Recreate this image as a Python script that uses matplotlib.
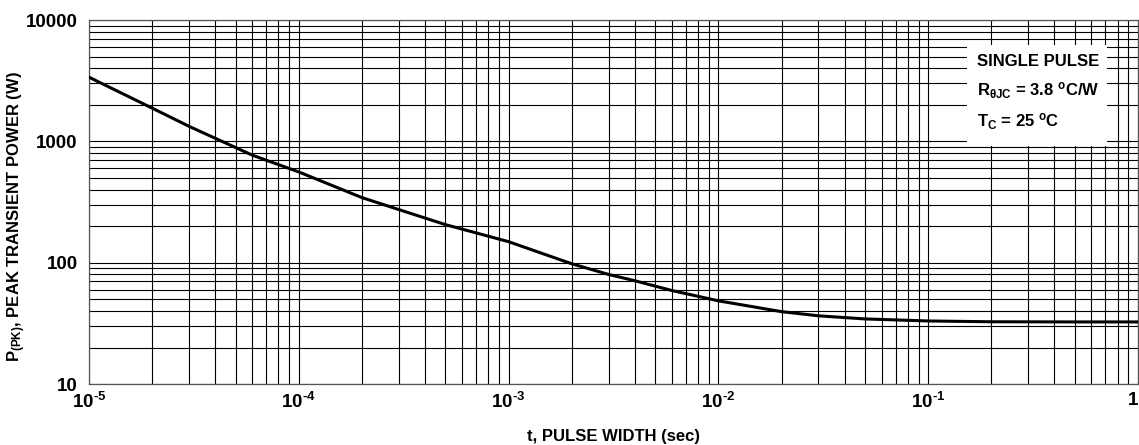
# Peak transient power vs pulse width (single pulse), log-log datasheet style chart

import matplotlib.pyplot as plt
from matplotlib.patches import Rectangle
from matplotlib.ticker import FixedLocator, FixedFormatter, LogLocator, NullFormatter

plt.rcParams['font.family'] = 'Liberation Sans'
plt.rcParams['font.weight'] = 'bold'
plt.rcParams['mathtext.fontset'] = 'custom'
plt.rcParams['mathtext.rm'] = 'Liberation Sans:bold'
plt.rcParams['mathtext.it'] = 'Liberation Sans:bold'
plt.rcParams['mathtext.bf'] = 'Liberation Sans:bold'
plt.rcParams['mathtext.default'] = 'regular'

# curve
pulse_width = [1e-5, 2e-5, 3e-5, 4e-5, 6e-5, 1e-4, 2e-4, 3e-4, 5e-4, 1e-3,
               2e-3, 3e-3, 4e-3, 6e-3, 1e-2, 2e-2, 3e-2, 5e-2, 1e-1, 2e-1,
               5e-1, 1.0]
peak_power = [3380, 1880, 1330, 1060, 770, 560, 344, 274, 206, 149,
              98, 80, 71, 59, 48.5, 39.5, 36.5, 34.4, 33.1, 32.6,
              32.5, 32.5]

x_ticks = [1e-5, 1e-4, 1e-3, 1e-2, 1e-1, 1]
x_tick_labels = [r'10$^{\text{-5}}$', r'10$^{\text{-4}}$', r'10$^{\text{-3}}$',
                 r'10$^{\text{-2}}$', r'10$^{\text{-1}}$', '1']
y_ticks = [10, 100, 1000, 10000]
y_tick_labels = ['10', '100', '1000', '10000']

legend_lines = ['SINGLE PULSE',
                r'R$_{\theta JC}$ = 3.8 $^{o}$C/W',
                r'T$_{C}$ = 25 $^{o}$C']

fig = plt.figure(figsize=(11.39, 4.45), dpi=100)
ax = fig.add_axes([0.0781, 0.137, 0.921, 0.818])

ax.plot(pulse_width, peak_power, color='black', linewidth=2.2, zorder=5)

ax.set_xscale('log')
ax.set_yscale('log')
ax.set_xlim(1e-5, 1)
ax.set_ylim(10, 10000)

ax.xaxis.set_major_locator(FixedLocator(x_ticks))
ax.xaxis.set_major_formatter(FixedFormatter(x_tick_labels))
ax.yaxis.set_major_locator(FixedLocator(y_ticks))
ax.yaxis.set_major_formatter(FixedFormatter(y_tick_labels))
ax.xaxis.set_minor_locator(LogLocator(base=10, subs=range(2, 10), numticks=20))
ax.yaxis.set_minor_locator(LogLocator(base=10, subs=range(2, 10), numticks=20))
ax.xaxis.set_minor_formatter(NullFormatter())
ax.yaxis.set_minor_formatter(NullFormatter())

ax.grid(True, which='both', color='black', linewidth=0.8)
ax.tick_params(which='both', length=0, labelsize=13.5)
ax.tick_params(axis='x', pad=6)
ax.tick_params(axis='y', pad=8)
for lab in ax.get_xticklabels() + ax.get_yticklabels():
    lab.set_fontweight('bold')
ax.get_xticklabels()[-1].set_horizontalalignment('right')
for sp in ax.spines.values():
    sp.set_linewidth(0.9)
    sp.set_color('#555555')

ax.set_xlabel('t, PULSE WIDTH (sec)', fontsize=12, fontweight='bold', labelpad=12)
ax.set_ylabel('P$_{(PK)}$, PEAK TRANSIENT POWER (W)', fontsize=12, fontweight='bold')
ax.yaxis.set_label_coords(-0.058, 0.46)

# white box holding the conditions text
ax.add_patch(Rectangle((0.837, 0.654), 0.133, 0.277, transform=ax.transAxes,
                       facecolor='white', edgecolor='none', zorder=3))
for txt, yy in zip(legend_lines, [0.885, 0.805, 0.72]):
    ax.text(0.8465, yy, txt, transform=ax.transAxes, fontsize=12,
            fontweight='bold', va='center', ha='left', zorder=4)

plt.savefig('out.png', dpi=100)
